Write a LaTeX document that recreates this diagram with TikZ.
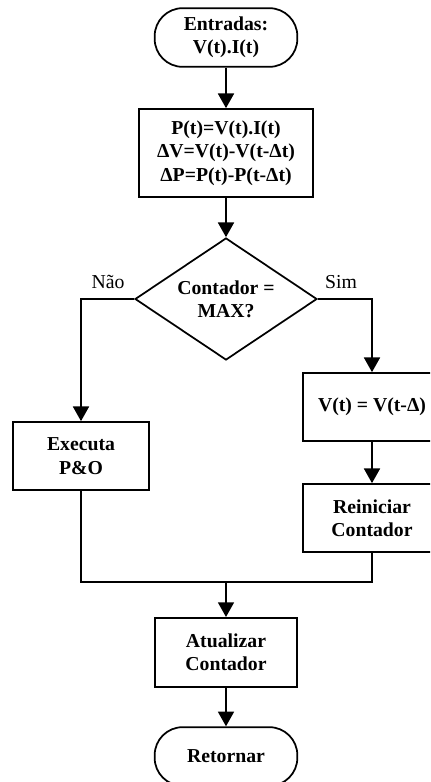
\documentclass[tikz,border=0pt]{standalone}
\usepackage{fontspec}
\setmainfont{Liberation Serif}
\usetikzlibrary{shapes.geometric,arrows.meta}
\begin{document}
\begin{tikzpicture}[x=0.75pt,y=-0.75pt,
  every node/.style={font=\fontsize{14.8}{17.5}\selectfont\bfseries, align=center, inner sep=0pt},
  ln/.style={line width=1.3pt},
  arr/.style={ln,-{Triangle[width=12pt,length=11pt]}},
  boxn/.style={draw,line width=1.3pt,rectangle},
  term/.style={draw,line width=1.3pt,rectangle,rounded corners=21pt},
  dec/.style={draw,line width=1.3pt,diamond,shape aspect=1.5,minimum width=136.5pt,minimum height=91.5pt},
  lbl/.style={font=\fontsize{14.8}{17.5}\selectfont\mdseries}
]
\clip (0,0) rectangle (430,782);
\node[term,minimum width=107pt,minimum height=44pt] (start) at (226,37.5) {Entradas:\\V(t).I(t)};
\node[boxn,minimum width=130pt,minimum height=66pt] (calc) at (226,153) {P(t)=V(t).I(t)\\ΔV=V(t)-V(t-Δt)\\ΔP=P(t)-P(t-Δt)};
\node[dec] (d) at (226,299) {Contador =\\MAX?};
\node[lbl] (nao) at (108,282) {Não};
\node[lbl] (sim) at (341,282) {Sim};
\node[boxn,minimum width=103.5pt,minimum height=51pt] (vt) at (372,407) {V(t) = V(t-Δ)};
\node[boxn,minimum width=102pt,minimum height=51pt] (exe) at (81,456) {Executa\\P\&O};
\node[boxn,minimum width=103.5pt,minimum height=51pt] (rein) at (372,518) {Reiniciar\\Contador};
\coordinate (jl) at (81,582);
\coordinate (jr) at (372,582);
\coordinate (jm) at (226,582);
\node[boxn,minimum width=107pt,minimum height=52pt] (upd) at (226,652.5) {Atualizar\\Contador};
\node[term,minimum width=107pt,minimum height=44pt] (ret) at (226,756.5) {Retornar};
\draw[arr] (start) -- (calc);
\draw[arr] (calc) -- (d);
\draw[arr] (d.west) -| (exe.north);
\draw[arr] (d.east) -| (vt.north);
\draw[arr] (vt) -- (rein);
\draw[ln] (exe.south) -- (jl) -- (jr) -- (rein.south);
\draw[arr] (jm) -- (upd);
\draw[arr] (upd) -- (ret);
\end{tikzpicture}
\end{document}
